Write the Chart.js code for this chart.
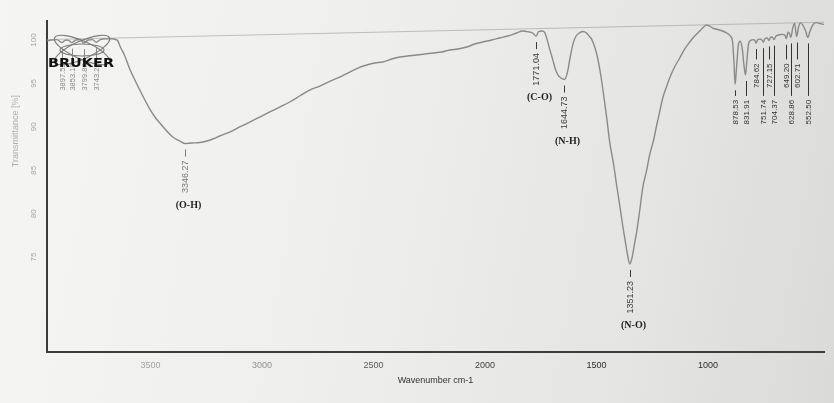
<!DOCTYPE html>
<html>
<head>
<meta charset="utf-8">
<script src="https://cdn.jsdelivr.net/npm/chart.js@4.4.1/dist/chart.umd.min.js"></script>
<style>
  html, body { margin: 0; padding: 0; }
  body {
    width: 834px; height: 403px; overflow: hidden;
    background: linear-gradient(100deg, #f5f5f3 0%, #efefed 40%, #e5e5e3 75%, #dadad8 100%);
  }
  #wrap { position: relative; width: 834px; height: 403px; }
</style>
</head>
<body>
<div id="wrap"><canvas id="c" width="834" height="403"></canvas></div>
<script>
// FT-IR spectrum: wavenumber (cm-1) vs transmittance (%)
const wavenumbers = [
  3964, 3945, 3920, 3897.52, 3880, 3866, 3853.10, 3835, 3815, 3799.86, 3780, 3760, 3743.21, 3725, 3700,
  3675, 3655, 3645, 3637, 3615, 3593, 3570, 3548, 3525, 3503, 3480, 3458, 3431, 3400, 3369, 3346.27,
  3315, 3279, 3247, 3221, 3190, 3145, 3100, 3055, 3010, 2965, 2921, 2876, 2831, 2786, 2741, 2683,
  2642, 2606, 2570, 2530, 2494, 2458, 2418, 2382, 2346, 2306, 2270, 2234, 2194, 2158, 2122, 2082,
  2046, 2010, 1970, 1934, 1898, 1858, 1831, 1815, 1800, 1785, 1771.04, 1760, 1745, 1732, 1722, 1710,
  1697, 1684, 1671, 1658, 1644.73, 1632, 1619, 1606, 1593, 1575, 1560, 1545, 1530, 1522, 1508, 1495,
  1481, 1468, 1454, 1441, 1423, 1410, 1396, 1383, 1369, 1360, 1351.23, 1342, 1329, 1320, 1306, 1293,
  1275, 1262, 1244, 1230, 1217, 1203, 1185, 1172, 1150, 1127, 1105, 1082, 1060, 1037, 1020, 1006,
  993, 979, 948, 916, 898, 890, 884, 878.53, 872, 864, 856, 846, 838, 831.91, 826, 818,
  808, 798, 790, 784.62, 778, 768, 758, 751.74, 745, 735, 727.15, 720, 712, 704.37, 695, 680,
  665, 655, 649.20, 641, 635, 628.86, 620, 612, 602.71, 594, 585, 575, 562, 552.50, 543, 530,
  515, 500, 480
];
const transmittance = [
  99.90, 100.00, 100.05, 99.70, 100.00, 99.95, 99.70, 100.00, 100.05, 99.65, 100.00, 100.05, 99.75, 100.05, 100.15,
  100.15, 100.05, 99.85, 99.31, 98.16, 96.66, 95.39, 94.24, 93.09, 92.05, 91.13, 90.44, 89.63, 88.83, 88.37, 88.08,
  88.14, 88.19, 88.37, 88.60, 88.94, 89.40, 89.98, 90.55, 91.13, 91.71, 92.28, 92.86, 93.55, 94.24, 94.70, 95.39,
  95.85, 96.31, 96.77, 97.12, 97.35, 97.47, 97.81, 98.04, 98.16, 98.27, 98.39, 98.50, 98.62, 98.85, 98.96, 99.19,
  99.54, 99.77, 100.00, 100.23, 100.46, 100.81, 101.04, 100.98, 100.92, 100.78, 100.45, 100.95, 101.04, 100.85, 100.10, 98.95,
  97.80, 96.60, 95.90, 95.60, 95.45, 96.10, 97.90, 99.50, 100.40, 100.85, 100.98, 100.80, 100.35, 100.10, 99.19, 97.93,
  95.97, 93.66, 91.01, 88.25, 85.60, 83.30, 80.99, 78.69, 76.50, 75.12, 74.20, 74.77, 76.61, 77.88, 80.42, 82.95,
  85.02, 86.75, 88.48, 90.21, 91.71, 93.32, 94.70, 95.62, 96.89, 97.93, 98.96, 99.77, 100.46, 101.04, 101.50, 101.73,
  101.61, 101.38, 101.15, 100.81, 100.40, 99.80, 97.60, 94.90, 96.90, 99.40, 99.85, 98.90, 96.90, 95.97, 97.60, 99.60,
  99.95, 100.05, 99.95, 99.65, 100.00, 100.10, 100.00, 99.75, 100.15, 100.25, 99.95, 100.30, 100.35, 100.05, 100.45, 100.60,
  100.65, 100.55, 100.15, 100.90, 100.75, 100.30, 101.40, 101.95, 100.40, 101.50, 102.00, 101.70, 101.00, 100.30, 101.00, 101.75,
  102.00, 101.90, 101.80
];

const xTickValues = [3500, 3000, 2500, 2000, 1500, 1000];
const yTickValues = [75, 80, 85, 90, 95, 100];

// picked peaks (cm-1)
const headPeaks = [3897.52, 3853.10, 3799.86, 3743.21];
const peakPositions = [3346.27, 1771.04, 1644.73, 1351.23];
const fingerprintUpper = [784.62, 727.15, 649.20, 602.71];
const fingerprintLower = [878.53, 831.91, 751.74, 704.37, 628.86, 552.50];
const bondPeaks = [3346.27, 1771.04, 1644.73, 1351.23];
const bondNames = ['(O-H)', '(C-O)', '(N-H)', '(N-O)'];

const SANS = "'Liberation Sans', Arial, sans-serif";
const SERIF = "'Liberation Serif', 'Times New Roman', serif";

function valueAt(w) {
  return transmittance[wavenumbers.indexOf(w)];
}

// vertical peak label: small dash under the band, then rotated wavenumber text
function drawPeak(ctx, xs, ys, w, opts) {
  const px = Math.round(xs.getPixelForValue(w)) + 0.5;
  const py = ys.getPixelForValue(valueAt(w));
  const textTop = opts.rowLevel !== undefined
    ? Math.max(ys.getPixelForValue(opts.rowLevel), py + 14)
    : py + 17;
  ctx.strokeStyle = opts.color;
  ctx.lineWidth = 1;
  ctx.beginPath();
  ctx.moveTo(px, py + 6);
  ctx.lineTo(px, opts.rowLevel !== undefined ? textTop - 4 : py + 13);
  ctx.stroke();
  const label = w.toFixed(2);
  ctx.save();
  ctx.font = opts.font;
  ctx.fillStyle = opts.color;
  ctx.translate(px, textTop);
  ctx.rotate(-Math.PI / 2);
  ctx.textAlign = 'right';
  ctx.textBaseline = 'middle';
  ctx.fillText(label, 0, 0);
  const len = ctx.measureText(label).width;
  ctx.restore();
  return { px, bottom: textTop + len };
}

const annotate = {
  id: 'annotate',
  afterDatasetsDraw(chart) {
    const { ctx, chartArea, scales: { x, y } } = chart;
    ctx.save();

    // faint upper frame line of the plot
    ctx.strokeStyle = 'rgba(150,150,150,0.55)';
    ctx.lineWidth = 1;
    ctx.beginPath();
    ctx.moveTo(chartArea.left, y.getPixelForValue(100.05));
    ctx.lineTo(chartArea.right, y.getPixelForValue(102.05));
    ctx.stroke();

    // main bands with assignments
    const ends = {};
    peakPositions.forEach((w, i) => {
      const col = w > 3000 ? '#7a7a7a' : '#3a3a3a';
      ends[w] = drawPeak(ctx, x, y, w, { font: '9px ' + SANS, color: col });
    });
    ctx.font = 'bold 10px ' + SERIF;
    ctx.fillStyle = '#1e1e1e';
    ctx.textAlign = 'center';
    ctx.textBaseline = 'middle';
    bondPeaks.forEach((w, i) => {
      const e = ends[w];
      ctx.fillText(bondNames[i], e.px + 3, e.bottom + 12);
    });

    // fingerprint region
    fingerprintUpper.forEach(w => drawPeak(ctx, x, y, w, { font: '8px ' + SANS, color: '#333', rowLevel: 97.3 }));
    fingerprintLower.forEach(w => drawPeak(ctx, x, y, w, { font: '8px ' + SANS, color: '#333', rowLevel: 93.1 }));

    // weak bands near 3900-3700
    headPeaks.forEach(w => drawPeak(ctx, x, y, w, { font: '7.5px ' + SANS, color: '#8a8a8a', rowLevel: 97.3 }));

    // instrument logo
    const lx = chartArea.left + 35, ly = chartArea.top + 29;
    ctx.strokeStyle = '#7c7c7c';
    ctx.lineWidth = 1.2;
    [[0.42, 30, 9], [-0.42, 30, 9], [0, 22, 6]].forEach(([rot, rx, ry]) => {
      ctx.beginPath();
      ctx.ellipse(lx, ly, rx, ry, rot, 0, Math.PI * 2);
      ctx.stroke();
    });
    ctx.font = '900 13px ' + "'DejaVu Sans', sans-serif";
    ctx.textAlign = 'left';
    ctx.textBaseline = 'alphabetic';
    const word = 'BRUKER';
    const ww = ctx.measureText(word).width;
    ctx.save();
    ctx.translate(chartArea.left + 1, chartArea.top + 46);
    ctx.scale(66 / ww, 1);
    ctx.fillStyle = '#111';
    ctx.fillText(word, 0, 0);
    ctx.restore();

    // y axis title
    ctx.save();
    ctx.font = '9px ' + SANS;
    ctx.fillStyle = '#b0b0b0';
    ctx.translate(16, y.getPixelForValue(89.5));
    ctx.rotate(-Math.PI / 2);
    ctx.textAlign = 'center';
    ctx.textBaseline = 'middle';
    ctx.fillText('Transmittance [%]', 0, 0);
    ctx.restore();

    ctx.restore();
  }
};

const xTickColors = ['#a3a3a3', '#909090', '#5a5a5a', '#404040', '#2c2c2c', '#2c2c2c'];

new Chart(document.getElementById('c'), {
  type: 'line',
  data: {
    datasets: [{
      data: wavenumbers.map((w, i) => ({ x: w, y: transmittance[i] })),
      borderColor: '#8a8a8a',
      borderWidth: 1.4,
      pointRadius: 0,
      cubicInterpolationMode: 'monotone',
      fill: false
    }]
  },
  options: {
    responsive: false,
    animation: false,
    devicePixelRatio: 1,
    layout: { padding: { left: 0, right: 10, top: 21, bottom: 0 } },
    plugins: { legend: { display: false }, tooltip: { enabled: false } },
    scales: {
      x: {
        type: 'linear',
        reverse: true,
        min: 480,
        max: 3964,
        grid: { display: false, drawTicks: false },
        border: { color: '#3c3c3c', width: 2 },
        afterBuildTicks: s => { s.ticks = xTickValues.map(v => ({ value: v })); },
        afterFit: s => { s.height = 51; },
        ticks: {
          padding: 8,
          autoSkip: false,
          maxRotation: 0,
          font: { family: SANS, size: 9 },
          color: c => xTickColors[c.index] || '#444',
          callback: v => String(v)
        },
        title: {
          display: true,
          text: 'Wavenumber cm-1',
          color: '#333',
          font: { family: SANS, size: 9 },
          padding: { top: 0, bottom: 17 }
        }
      },
      y: {
        type: 'linear',
        min: 64.06,
        max: 102.19,
        grid: { display: false, drawTicks: false },
        border: { color: '#3c3c3c', width: 2 },
        afterBuildTicks: s => { s.ticks = yTickValues.map(v => ({ value: v })); },
        afterFit: s => { s.width = 47; },
        ticks: {
          minRotation: 90,
          maxRotation: 90,
          crossAlign: 'center',
          padding: 7,
          font: { family: SANS, size: 8 },
          color: '#a5a5a5',
          callback: v => String(v)
        }
      }
    }
  },
  plugins: [annotate]
});
</script>
</body>
</html>
